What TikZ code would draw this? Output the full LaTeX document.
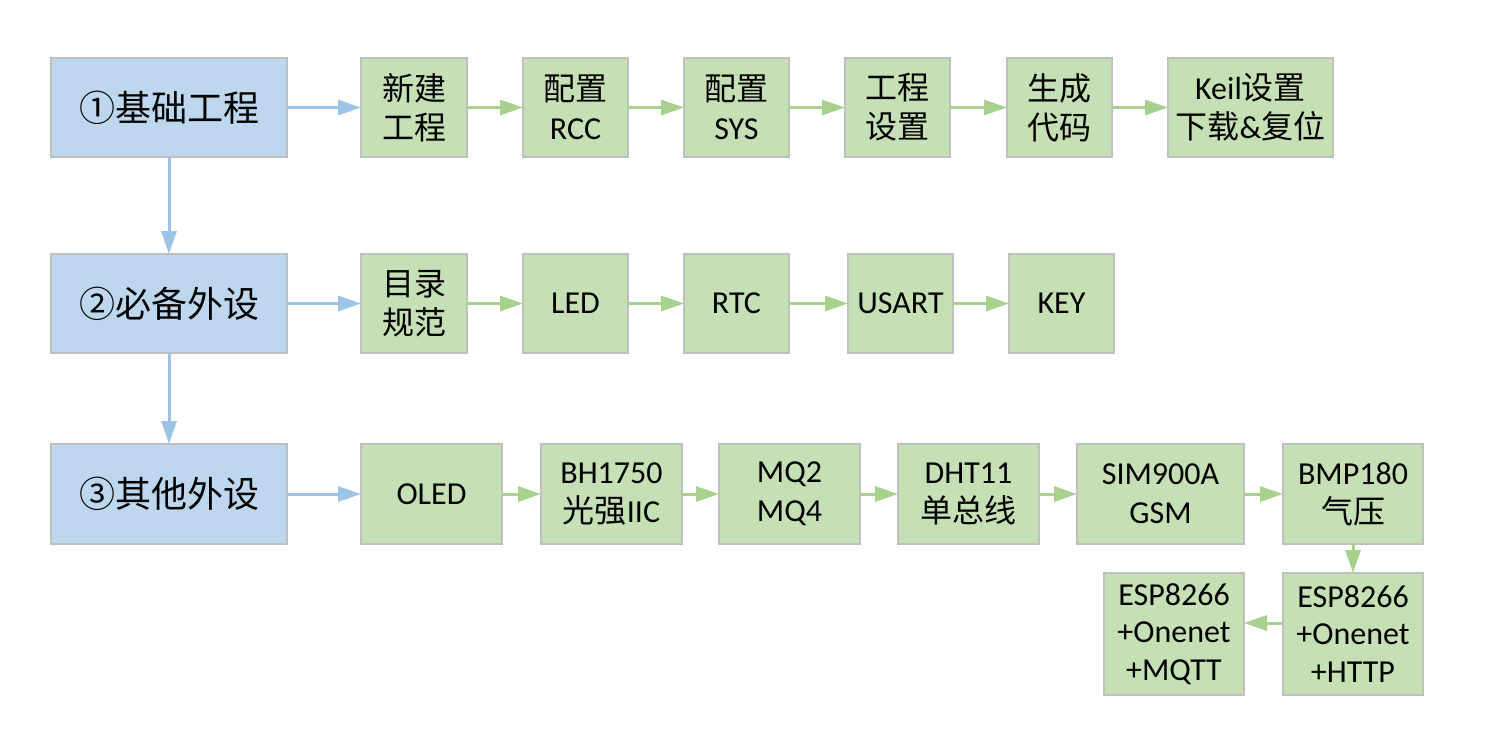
\documentclass[tikz,border=0pt]{standalone}
\usepackage{fontspec}
\setmainfont{Carlito}
\newfontfamily\cjk{Noto Sans CJK SC}
\usetikzlibrary{arrows.meta}
\definecolor{bluefill}{HTML}{BDD7EE}
\definecolor{greenfill}{HTML}{C5E0B4}
\definecolor{boxline}{HTML}{BFBFBF}
\definecolor{bluearrow}{HTML}{9DC3E6}
\definecolor{greenarrow}{HTML}{A9D18E}
\tikzset{
 box/.style={draw=boxline, line width=1.2pt, anchor=north west, inner sep=0pt, outer sep=0pt, align=center, text=black},
 bluebox/.style={box, fill=bluefill, minimum width=236pt, minimum height=99pt, font=\fontsize{36}{42}\selectfont\cjk},
 greenbox/.style={box, fill=greenfill, minimum height=99pt, font=\fontsize{32}{39}\selectfont},
 barrow/.style={draw=bluearrow, line width=3pt, -{Triangle[length=23pt,width=15pt]}},
 garrow/.style={draw=greenarrow, line width=3pt, -{Triangle[length=23pt,width=15pt]}},
}
\begin{document}
\begin{tikzpicture}[x=1pt,y=-1pt]
\path[use as bounding box, fill=white] (0,0) rectangle (1494,748);
% row 1
\node[bluebox] (b1) at (51,58) {①基础工程};
\node[greenbox, minimum width=106pt] (g11) at (361,58) {{\cjk 新建}\\{\cjk 工程}};
\node[greenbox, minimum width=105pt] (g12) at (523,58) {{\cjk 配置}\\RCC};
\node[greenbox, minimum width=105pt] (g13) at (684,58) {{\cjk 配置}\\SYS};
\node[greenbox, minimum width=105pt] (g14) at (845,58) {{\cjk 工程}\\{\cjk 设置}};
\node[greenbox, minimum width=105pt] (g15) at (1007,58) {{\cjk 生成}\\{\cjk 代码}};
\node[greenbox, minimum width=165pt] (g16) at (1168,58) {Keil{\cjk 设置}\\{\cjk 下载}\&{\cjk 复位}};
% row 2
\node[bluebox] (b2) at (51,254) {②必备外设};
\node[greenbox, minimum width=106pt] (g21) at (361,254) {{\cjk 目录}\\{\cjk 规范}};
\node[greenbox, minimum width=105pt] (g22) at (523,254) {LED};
\node[greenbox, minimum width=105pt] (g23) at (684,254) {RTC};
\node[greenbox, minimum width=105pt] (g24) at (848,254) {USART};
\node[greenbox, minimum width=105pt] (g25) at (1009,254) {KEY};
% row 3
\node[bluebox, minimum height=100pt] (b3) at (51,444) {③其他外设};
\node[greenbox, minimum width=141pt, minimum height=100pt] (g31) at (361,444) {OLED};
\node[greenbox, minimum width=141pt, minimum height=100pt] (g32) at (541,444) {BH1750\\{\cjk 光强}IIC};
\node[greenbox, minimum width=141pt, minimum height=100pt] (g33) at (719,444) {MQ2\\MQ4};
\node[greenbox, minimum width=141pt, minimum height=100pt] (g34) at (898,444) {DHT11\\{\cjk 单总线}};
\node[greenbox, minimum width=167pt, minimum height=100pt] (g35) at (1077,444) {SIM900A\\GSM};
\node[greenbox, minimum width=140pt, minimum height=100pt] (g36) at (1283,444) {BMP180\\{\cjk 气压}};
% row 4
\node[greenbox, minimum width=140pt, minimum height=122pt, font=\fontsize{32}{37.5}\selectfont] (g42) at (1283,573) {ESP8266\\+Onenet\\+HTTP};
\node[greenbox, minimum width=140pt, minimum height=122pt, font=\fontsize{32}{37.5}\selectfont] (g41) at (1104,573) {ESP8266\\+Onenet\\+MQTT};
% connectors
\draw[barrow] (b1.south) -- (b2.north);
\draw[barrow] (b2.south) -- (b3.north);
\draw[barrow] (b1.east) -- (g11.west);
\draw[barrow] (b2.east) -- (g21.west);
\draw[barrow] (b3.east) -- (g31.west);
\draw[garrow] (g11.east) -- (g12.west);
\draw[garrow] (g12.east) -- (g13.west);
\draw[garrow] (g13.east) -- (g14.west);
\draw[garrow] (g14.east) -- (g15.west);
\draw[garrow] (g15.east) -- (g16.west);
\draw[garrow] (g21.east) -- (g22.west);
\draw[garrow] (g22.east) -- (g23.west);
\draw[garrow] (g23.east) -- (g24.west);
\draw[garrow] (g24.east) -- (g25.west);
\draw[garrow] (g31.east) -- (g32.west);
\draw[garrow] (g32.east) -- (g33.west);
\draw[garrow] (g33.east) -- (g34.west);
\draw[garrow] (g34.east) -- (g35.west);
\draw[garrow] (g35.east) -- (g36.west);
\draw[garrow] (g36.south) -- (g42.north);
\draw[garrow] ([yshift=11pt]g42.west) -- ([yshift=11pt]g41.east);
\end{tikzpicture}
\end{document}
